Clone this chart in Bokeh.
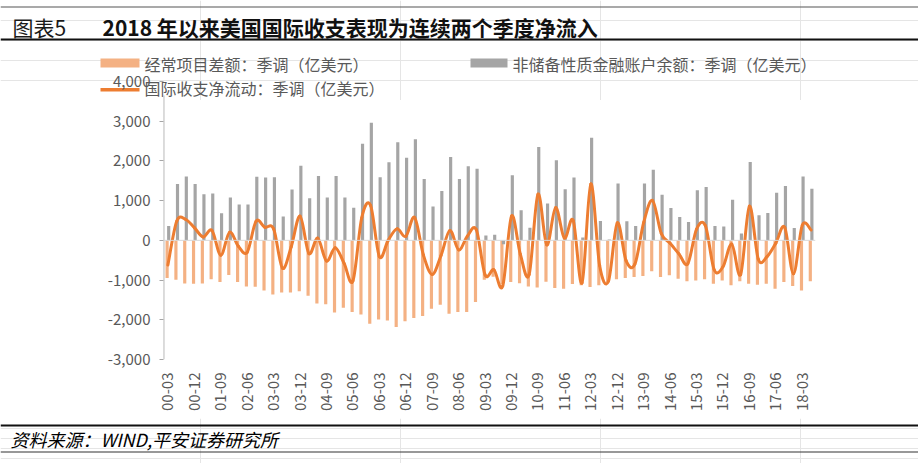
import math
from bokeh.plotting import figure
from bokeh.layouts import column
from bokeh.models import (FixedTicker, NumeralTickFormatter, Range1d, Span,
                          ColumnDataSource)
from bokeh.transform import dodge
from bokeh.core.properties import value
from bokeh.embed import file_html
from bokeh.resources import INLINE

# ---------------- data ----------------
quarters = [f"{y % 100:02d}-{m}" for y in range(2000, 2019) for m in ("03", "06", "09", "12")][:74]

current_account = [
    -950, -990, -1085, -1095, -1085, -980, -1050, -875, -1050, -1165,
    -1170, -1260, -1365, -1310, -1315, -1280, -1395, -1590, -1610, -1815,
    -1700, -1805, -1865, -2100, -1990, -2015, -2180, -2040, -1955, -1905,
    -1720, -1620, -1850, -1805, -1805, -1555, -990, -915, -1100, -1050,
    -1080, -1165, -1190, -1040, -1200, -1220, -1100, -1130, -1175, -1130,
    -1050, -980, -950, -925, -900, -780, -925, -880, -965, -1030,
    -1010, -980, -1090, -1010, -1130, -1030, -1090, -1115, -1090, -1220,
    -1050, -1150, -1260, -1030]

financial_account = [
    360, 1420, 1610, 1420, 1160, 1180, 680, 1080, 900, 900,
    1600, 1580, 1590, 600, 1280, 1880, 1060, 1620, 1080, 1620,
    1080, 820, 2430, 2960, 1590, 1965, 2470, 2080, 2545, 1545,
    855, 1240, 2100, 1545, 1865, 1805, 120, 140, -100, 1640,
    760, 320, 2350, 925, 2015, 1285, 1580, 70, 2585, 490,
    20, 1430, 480, 360, 1430, 1780, 1150, 815, 590, 460,
    1260, 1345, 360, 350, 1025, 170, 1975, 630, 690, 1200,
    1370, 310, 1610, 1300]

net_flow = [
    -620, 480, 530, 320, 85, 250, -375, 205, -150, -300,
    480, 330, 290, -700, -160, 610, -330, 55, -520, -185,
    -580, -1020, 570, 880, -410, 0, 290, 100, 575, -370,
    -860, -380, 250, -240, 110, 270, -870, -740, -1150, 610,
    -350, -860, 1160, -115, 825, 55, 500, -1070, 1420, -635,
    -1030, 440, -510, -600, 450, 1005, 170, -75, -340, -590,
    280, 370, -740, -665, -95, -860, 860, -470, -410, -70,
    330, -840, 380, 260]

y_ticks = [-3000, -2000, -1000, 0, 1000, 2000, 3000, 4000]
x_tick_positions = list(range(0, 74, 3))
x_tick_labels = [quarters[i] for i in x_tick_positions]

title_left = "图表5"
title_main = "2018 年以来美国国际收支表现为连续两个季度净流入"
legend_ca = "经常项目差额：季调（亿美元）"
legend_fa = "非储备性质金融账户余额：季调（亿美元）"
legend_net = "国际收支净流动：季调（亿美元）"
source_text = "资料来源：WIND,平安证券研究所"

# ---------------- styles ----------------
W = 918
CJK = "Noto Sans CJK SC"
GREY_TXT = "#595959"
ORANGE_BAR = "#F4B183"
GREY_BAR = "#A5A5A5"
ORANGE_LINE = "#ED7D31"
AXIS_GREY = "#A6A6A6"

HDR_H, MAIN_H, FTR_H = 100, 362, 45
OVERLAP = 44          # main chart canvas slides up under the header's legend rows


def deco_fig(h):
    f = figure(width=W, height=h, output_backend="svg", toolbar_location=None,
               x_range=Range1d(0, W), y_range=Range1d(h, 0),
               x_axis_location=None, y_axis_location=None,
               min_border_left=0, min_border_right=0, min_border_top=0,
               min_border_bottom=0, frame_align=False)
    f.outline_line_color = None
    f.background_fill_color = "white"
    f.border_fill_color = "white"
    return f


def txt(f, x, y, t, size, color="black", style="normal"):
    f.text(x=[x], y=[y], text=[t], text_font=value(CJK), text_font_size=f"{size}px",
           text_color=color, text_font_style=style, text_baseline="middle",
           text_align="left")


def bar(f, x0, x1, y0, y1, color):
    f.quad(left=[x0], right=[x1], top=[y0], bottom=[y1], fill_color=color,
           line_color=None)


# ---------------- header (title + legend) ----------------
hdr = deco_fig(HDR_H)
bar(hdr, 0, W, 6, 7, "#555555")
txt(hdr, 12, 26, title_left, 21, "#1a1a1a")
txt(hdr, 102, 26, title_main, 21, "#111111", "bold")
bar(hdr, 0, W, 38, 40, "#111111")
bar(hdr, 100, 139, 58, 67, ORANGE_BAR)
txt(hdr, 144, 63, legend_ca, 16, GREY_TXT)
bar(hdr, 470, 507, 58, 67, GREY_BAR)
txt(hdr, 512, 63, legend_fa, 16, GREY_TXT)
bar(hdr, 100, 139, 87.5, 91, ORANGE_LINE)
txt(hdr, 144, 87, legend_net, 16, GREY_TXT)

# ---------------- main chart ----------------
p = figure(width=W, height=MAIN_H, output_backend="svg", toolbar_location=None,
           x_range=Range1d(-0.5, 73.5), y_range=Range1d(-3000, 4000),
           min_border_left=163, min_border_right=103, min_border_top=25,
           min_border_bottom=59, frame_align=False, margin=(-OVERLAP, 0, 0, 0))
p.outline_line_color = None
p.grid.visible = False
p.background_fill_alpha = 0
p.border_fill_alpha = 0

yax = p.yaxis[0]
yax.ticker = FixedTicker(ticks=y_ticks)
yax.formatter = NumeralTickFormatter(format="0,0")
yax.axis_line_color = None
yax.major_tick_line_color = AXIS_GREY
yax.major_tick_out = 4
yax.major_tick_in = 0
yax.minor_tick_line_color = None
yax.major_label_text_font = CJK
yax.major_label_text_font_size = "15px"
yax.major_label_text_color = GREY_TXT
yax.major_label_standoff = 9

xax = p.xaxis[0]
xax.ticker = FixedTicker(ticks=x_tick_positions)
xax.major_label_overrides = {i: lab for i, lab in zip(x_tick_positions, x_tick_labels)}
xax.major_label_orientation = math.pi / 2
xax.axis_line_color = None
xax.major_tick_line_color = None
xax.minor_tick_line_color = None
xax.major_label_text_font = CJK
xax.major_label_text_font_size = "15px"
xax.major_label_text_color = GREY_TXT
xax.major_label_standoff = 7

# value axis line (stops below the legend row, as in the original)
p.segment(x0=[-0.47], y0=[-3000], x1=[-0.47], y1=[3650], line_color=AXIS_GREY,
          line_width=1.2)
p.add_layout(Span(location=0, dimension="width", line_color="#D9D9D9", line_width=1))

src = ColumnDataSource(dict(idx=list(range(len(quarters))), ca=current_account,
                            fa=financial_account))
p.vbar(x=dodge("idx", -0.09, range=p.x_range), top="ca", bottom=0, width=0.36,
       source=src, fill_color=ORANGE_BAR, line_color=None)
p.vbar(x=dodge("idx", 0.09, range=p.x_range), top="fa", bottom=0, width=0.36,
       source=src, fill_color=GREY_BAR, line_color=None)

# smoothed line through the net-flow points (Catmull-Rom -> cubic Bezier segments)
n = len(net_flow)
xs = list(range(n))
bx0, by0, bx1, by1, cx0, cy0, cx1, cy1 = ([] for _ in range(8))
for i in range(n - 1):
    pm = i - 1 if i > 0 else i
    pp = i + 2 if i + 2 < n else i + 1
    bx0.append(xs[i]); by0.append(net_flow[i])
    bx1.append(xs[i + 1]); by1.append(net_flow[i + 1])
    cx0.append(xs[i] + (xs[i + 1] - xs[pm]) / 6)
    cy0.append(net_flow[i] + (net_flow[i + 1] - net_flow[pm]) / 6)
    cx1.append(xs[i + 1] - (xs[pp] - xs[i]) / 6)
    cy1.append(net_flow[i + 1] - (net_flow[pp] - net_flow[i]) / 6)
p.bezier(x0=bx0, y0=by0, x1=bx1, y1=by1, cx0=cx0, cy0=cy0, cx1=cx1, cy1=cy1,
         line_color=ORANGE_LINE, line_width=3, line_cap="round")

# ---------------- footer ----------------
ftr = deco_fig(FTR_H)
bar(ftr, 0, W, 6, 8, "#111111")
txt(ftr, 10, 20, source_text, 18, "black", "italic")
bar(ftr, 0, W, 33, 34, "#333333")

layout = column(hdr, p, ftr, spacing=0)
open("out.html", "w").write(file_html(layout, INLINE))
